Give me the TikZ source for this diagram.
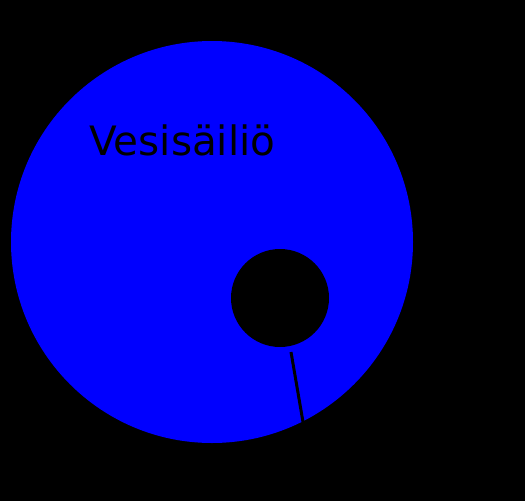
\documentclass[tikz,border=0pt]{standalone}
\usepackage{fontspec}
\setmainfont{DejaVu Sans}
\begin{document}
\begin{tikzpicture}[x=1pt,y=-1pt,
  tank/.style={circle,fill=blue,inner sep=0,minimum size=402pt},
  hole/.style={circle,fill=black,inner sep=0,minimum size=98pt},
  pipe/.style={line width=3pt,black}]
\fill[black] (0,0) rectangle (525,501);
\useasboundingbox (0,0) rectangle (525,501);
\node[tank] (tank) at (212,242) {};
\node[hole] (hole) at (280,298) {};
\node[anchor=base west,inner sep=0,font=\fontsize{40.5pt}{45pt}\selectfont] (label) at (89,155) {Vesisäiliö};
\coordinate (pipeend) at (303,422);
\draw[pipe] (291,352) -- (pipeend);
\end{tikzpicture}
\end{document}
